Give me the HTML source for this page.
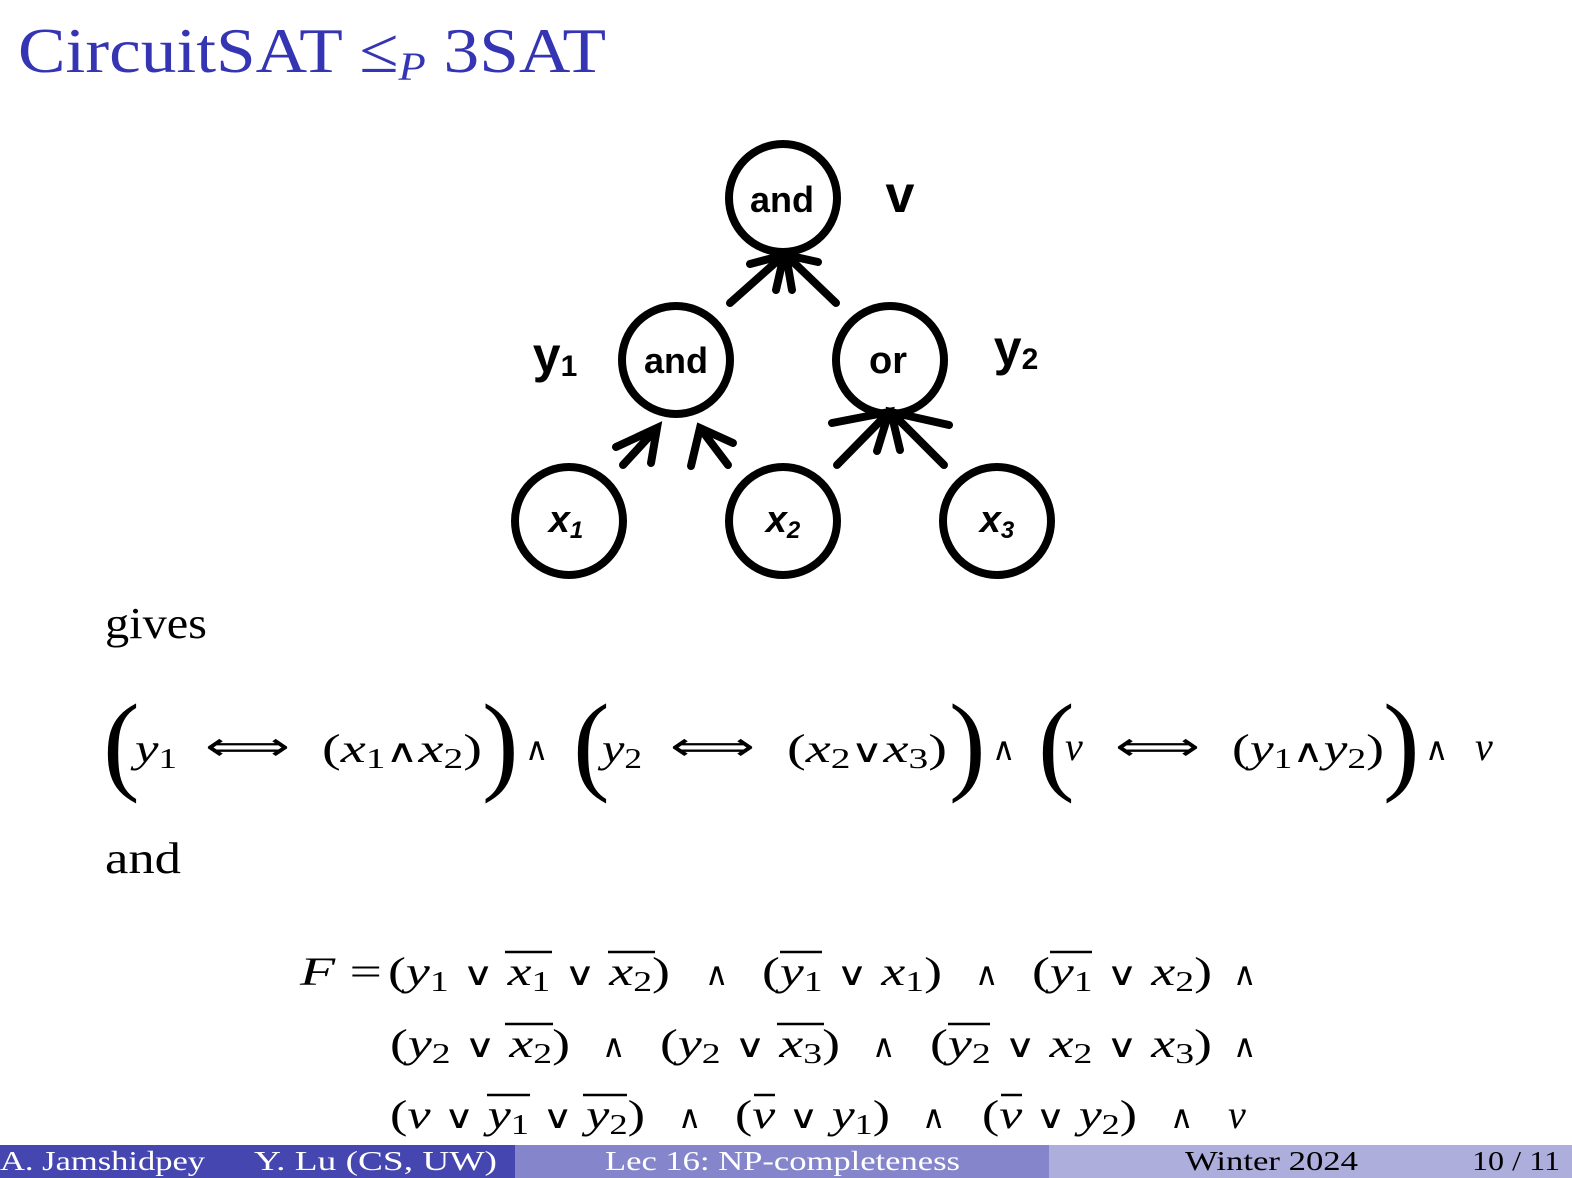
<!DOCTYPE html>
<html><head><meta charset="utf-8"><style>
html,body{margin:0;padding:0;background:#fff;}
body{width:1572px;height:1178px;position:relative;overflow:hidden;font-family:"Liberation Serif",serif;}
</style></head><body>
<svg width="1572" height="1178" style="position:absolute;left:0;top:0" font-family="Liberation Serif, serif">
<text x="18" y="72" font-size="64" fill="#3535b4" textLength="588" lengthAdjust="spacingAndGlyphs">CircuitSAT ≤<tspan font-style="italic" font-size="40" dy="8">P</tspan><tspan dy="-8"> 3SAT</tspan></text>
<g fill="none" stroke="#000" stroke-width="8" stroke-linecap="round">
<circle cx="783" cy="198" r="54"/>
<circle cx="676" cy="360" r="54"/>
<circle cx="890" cy="360" r="54"/>
<circle cx="569" cy="521" r="54"/>
<circle cx="783" cy="521" r="54"/>
<circle cx="997" cy="521" r="54"/>
<path d="M730 303 L784 255 M750 264 L784 255 L776 290"/>
<path d="M836 303 L786 255 M818 262 L786 255 L792 290"/>
<path d="M623 465 L657 428 M616 447 L657 428 L651 463"/>
<path d="M728 465 L700 428 M691 466 L700 428 L733 443"/>
<path d="M837 465 L889 412 M832 423 L889 412 L877 451"/>
<path d="M944 465 L891 412 M900 450 L891 412 L949 425"/>
</g>
<g font-family="Liberation Sans, sans-serif" font-weight="bold" text-anchor="middle">
<text x="782" y="212" font-size="36">and</text>
<text x="676" y="373" font-size="36">and</text>
<text x="888" y="373" font-size="38">or</text>
<text x="566" y="532" font-size="38" font-style="italic">x<tspan font-size="24" dy="6">1</tspan></text>
<text x="783" y="532" font-size="38" font-style="italic">x<tspan font-size="24" dy="6">2</tspan></text>
<text x="997" y="532" font-size="38" font-style="italic">x<tspan font-size="24" dy="6">3</tspan></text>
<text x="900" y="212" font-size="52">v</text>
<text x="555" y="372" font-size="50">y<tspan font-size="30" dy="4">1</tspan></text>
<text x="1016" y="365" font-size="50">y<tspan font-size="30" dy="4">2</tspan></text>
</g>
<text x="105" y="638" font-size="44" textLength="102" lengthAdjust="spacingAndGlyphs">gives</text>
<text x="105" y="873" font-size="44" textLength="76" lengthAdjust="spacingAndGlyphs">and</text>
<g font-size="40" font-style="italic">
<text x="103" y="780" font-size="110" font-style="normal">(</text>
<text x="135" y="762" textLength="42" lengthAdjust="spacingAndGlyphs">y<tspan font-size="28" dy="6" font-style="normal">1</tspan></text>
<text x="205" y="760" font-style="normal" textLength="85" lengthAdjust="spacingAndGlyphs">⟺</text>
<text x="322" y="762" textLength="160" lengthAdjust="spacingAndGlyphs"><tspan font-style="normal">(</tspan>x<tspan font-size="28" dy="6" font-style="normal">1</tspan><tspan dy="-6" font-style="normal" font-family="DejaVu Serif" font-size="32">∧</tspan>x<tspan font-size="28" dy="6" font-style="normal">2</tspan><tspan dy="-6" font-style="normal">)</tspan></text>
<text x="482" y="780" font-size="110" font-style="normal">)</text>
<text x="525" y="760" font-style="normal" font-family="DejaVu Serif" font-size="32">∧</text>
<text x="573" y="780" font-size="110" font-style="normal">(</text>
<text x="602" y="762" textLength="40" lengthAdjust="spacingAndGlyphs">y<tspan font-size="28" dy="6" font-style="normal">2</tspan></text>
<text x="670" y="760" font-style="normal" textLength="85" lengthAdjust="spacingAndGlyphs">⟺</text>
<text x="787" y="762" textLength="160" lengthAdjust="spacingAndGlyphs"><tspan font-style="normal">(</tspan>x<tspan font-size="28" dy="6" font-style="normal">2</tspan><tspan dy="-6" font-style="normal" font-family="DejaVu Serif" font-size="32">∨</tspan>x<tspan font-size="28" dy="6" font-style="normal">3</tspan><tspan dy="-6" font-style="normal">)</tspan></text>
<text x="949" y="780" font-size="110" font-style="normal">)</text>
<text x="992" y="760" font-style="normal" font-family="DejaVu Serif" font-size="32">∧</text>
<text x="1038" y="780" font-size="110" font-style="normal">(</text>
<text x="1065" y="760">v</text>
<text x="1115" y="760" font-style="normal" textLength="85" lengthAdjust="spacingAndGlyphs">⟺</text>
<text x="1232" y="762" textLength="152" lengthAdjust="spacingAndGlyphs"><tspan font-style="normal">(</tspan>y<tspan font-size="28" dy="6" font-style="normal">1</tspan><tspan dy="-6" font-style="normal" font-family="DejaVu Serif" font-size="32">∧</tspan>y<tspan font-size="28" dy="6" font-style="normal">2</tspan><tspan dy="-6" font-style="normal">)</tspan></text>
<text x="1383" y="780" font-size="110" font-style="normal">)</text>
<text x="1425" y="760" font-style="normal" font-family="DejaVu Serif" font-size="32">∧</text>
<text x="1475" y="760">v</text>
</g>
<g font-size="40" font-style="italic">
<text x="300" y="985" textLength="82" lengthAdjust="spacingAndGlyphs">F <tspan font-style="normal">=</tspan></text>
<text x="388" y="985" textLength="282" lengthAdjust="spacingAndGlyphs"><tspan font-style="normal">(</tspan>y<tspan font-size="28" dy="6" font-style="normal">1</tspan><tspan dy="-6" font-style="normal" font-family="DejaVu Serif" font-size="32"> ∨ </tspan>x<tspan font-size="28" dy="6" font-style="normal">1</tspan><tspan dy="-6" font-style="normal" font-family="DejaVu Serif" font-size="32"> ∨ </tspan>x<tspan font-size="28" dy="6" font-style="normal">2</tspan><tspan dy="-6" font-style="normal">)</tspan></text>
<text x="705" y="985" font-style="normal" font-family="DejaVu Serif" font-size="32">∧</text>
<text x="762" y="985" textLength="180" lengthAdjust="spacingAndGlyphs"><tspan font-style="normal">(</tspan>y<tspan font-size="28" dy="6" font-style="normal">1</tspan><tspan dy="-6" font-style="normal" font-family="DejaVu Serif" font-size="32"> ∨ </tspan>x<tspan font-size="28" dy="6" font-style="normal">1</tspan><tspan dy="-6" font-style="normal">)</tspan></text>
<text x="975" y="985" font-style="normal" font-family="DejaVu Serif" font-size="32">∧</text>
<text x="1032" y="985" textLength="180" lengthAdjust="spacingAndGlyphs"><tspan font-style="normal">(</tspan>y<tspan font-size="28" dy="6" font-style="normal">1</tspan><tspan dy="-6" font-style="normal" font-family="DejaVu Serif" font-size="32"> ∨ </tspan>x<tspan font-size="28" dy="6" font-style="normal">2</tspan><tspan dy="-6" font-style="normal">)</tspan></text>
<text x="1233" y="985" font-style="normal" font-family="DejaVu Serif" font-size="32">∧</text>
<text x="390" y="1057" textLength="180" lengthAdjust="spacingAndGlyphs"><tspan font-style="normal">(</tspan>y<tspan font-size="28" dy="6" font-style="normal">2</tspan><tspan dy="-6" font-style="normal" font-family="DejaVu Serif" font-size="32"> ∨ </tspan>x<tspan font-size="28" dy="6" font-style="normal">2</tspan><tspan dy="-6" font-style="normal">)</tspan></text>
<text x="602" y="1057" font-style="normal" font-family="DejaVu Serif" font-size="32">∧</text>
<text x="660" y="1057" textLength="180" lengthAdjust="spacingAndGlyphs"><tspan font-style="normal">(</tspan>y<tspan font-size="28" dy="6" font-style="normal">2</tspan><tspan dy="-6" font-style="normal" font-family="DejaVu Serif" font-size="32"> ∨ </tspan>x<tspan font-size="28" dy="6" font-style="normal">3</tspan><tspan dy="-6" font-style="normal">)</tspan></text>
<text x="872" y="1057" font-style="normal" font-family="DejaVu Serif" font-size="32">∧</text>
<text x="930" y="1057" textLength="282" lengthAdjust="spacingAndGlyphs"><tspan font-style="normal">(</tspan>y<tspan font-size="28" dy="6" font-style="normal">2</tspan><tspan dy="-6" font-style="normal" font-family="DejaVu Serif" font-size="32"> ∨ </tspan>x<tspan font-size="28" dy="6" font-style="normal">2</tspan><tspan dy="-6" font-style="normal" font-family="DejaVu Serif" font-size="32"> ∨ </tspan>x<tspan font-size="28" dy="6" font-style="normal">3</tspan><tspan dy="-6" font-style="normal">)</tspan></text>
<text x="1233" y="1057" font-style="normal" font-family="DejaVu Serif" font-size="32">∧</text>
<text x="390" y="1128" textLength="255" lengthAdjust="spacingAndGlyphs"><tspan font-style="normal">(</tspan>v<tspan font-style="normal" font-family="DejaVu Serif" font-size="32"> ∨ </tspan>y<tspan font-size="28" dy="6" font-style="normal">1</tspan><tspan dy="-6" font-style="normal" font-family="DejaVu Serif" font-size="32"> ∨ </tspan>y<tspan font-size="28" dy="6" font-style="normal">2</tspan><tspan dy="-6" font-style="normal">)</tspan></text>
<text x="678" y="1128" font-style="normal" font-family="DejaVu Serif" font-size="32">∧</text>
<text x="735" y="1128" textLength="155" lengthAdjust="spacingAndGlyphs"><tspan font-style="normal">(</tspan>v<tspan font-style="normal" font-family="DejaVu Serif" font-size="32"> ∨ </tspan>y<tspan font-size="28" dy="6" font-style="normal">1</tspan><tspan dy="-6" font-style="normal">)</tspan></text>
<text x="922" y="1128" font-style="normal" font-family="DejaVu Serif" font-size="32">∧</text>
<text x="982" y="1128" textLength="155" lengthAdjust="spacingAndGlyphs"><tspan font-style="normal">(</tspan>v<tspan font-style="normal" font-family="DejaVu Serif" font-size="32"> ∨ </tspan>y<tspan font-size="28" dy="6" font-style="normal">2</tspan><tspan dy="-6" font-style="normal">)</tspan></text>
<text x="1170" y="1128" font-style="normal" font-family="DejaVu Serif" font-size="32">∧</text>
<text x="1228" y="1128">v</text>
</g>
<g stroke="#000" stroke-width="2.5">
<line x1="505" y1="952" x2="552" y2="952"/><line x1="608" y1="952" x2="655" y2="952"/>
<line x1="780" y1="952" x2="822" y2="952"/><line x1="1050" y1="952" x2="1092" y2="952"/>
<line x1="505" y1="1024" x2="553" y2="1024"/><line x1="777" y1="1024" x2="824" y2="1024"/>
<line x1="948" y1="1024" x2="990" y2="1024"/>
<line x1="487" y1="1095" x2="530" y2="1095"/><line x1="583" y1="1095" x2="627" y2="1095"/>
<line x1="754" y1="1095" x2="775" y2="1095"/><line x1="1001" y1="1095" x2="1022" y2="1095"/>
</g>
<rect x="0" y="1145" width="515" height="33" fill="#4646b0"/>
<rect x="515" y="1145" width="534" height="33" fill="#8585cc"/>
<rect x="1049" y="1145" width="523" height="33" fill="#aeaedd"/>
<g font-size="27">
<text x="0" y="1170" fill="#fff" textLength="205" lengthAdjust="spacingAndGlyphs">A. Jamshidpey</text>
<text x="254" y="1170" fill="#fff" textLength="243" lengthAdjust="spacingAndGlyphs">Y. Lu  (CS, UW)</text>
<text x="605" y="1170" fill="#fff" textLength="355" lengthAdjust="spacingAndGlyphs">Lec 16: NP-completeness</text>
<text x="1185" y="1170" fill="#000" textLength="173" lengthAdjust="spacingAndGlyphs">Winter 2024</text>
<text x="1472" y="1170" fill="#000" textLength="88" lengthAdjust="spacingAndGlyphs">10 / 11</text>
</g>
</svg>
</body></html>
